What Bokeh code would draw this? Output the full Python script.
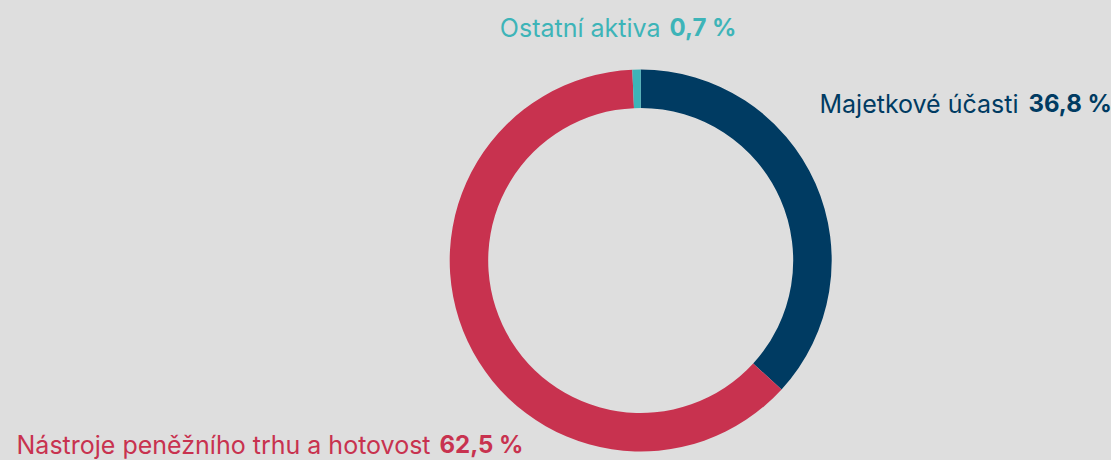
import math
from bokeh.plotting import figure
from bokeh.models import Range1d, ColumnDataSource
from bokeh.core.properties import value
from bokeh.embed import file_html
from bokeh.resources import INLINE

# ---- data ----
categories = ["Majetkové účasti", "Nástroje peněžního trhu a hotovost", "Ostatní aktiva"]
shares = [36.8, 62.5, 0.7]

# ---- styles ----
colors = ["#003b62", "#c8324f", "#3db4b8"]
BG = "#dedede"
W, H = 1111, 460
CX, CY = 640.2, 460 - 260.0
R_OUT, R_IN = 191.0, 152.5
FONT = "Inter"
FS_NAME = "25px"
FS_VAL = "24px"
BASE_FIX = 8  # renderer baseline correction (px)

p = figure(width=W, height=H, output_backend="svg", toolbar_location=None,
           x_range=Range1d(0, W), y_range=Range1d(0, H), min_border=0,
           background_fill_color=BG, border_fill_color=BG)
p.axis.visible = False
p.grid.visible = False
p.outline_line_color = None

total = sum(shares)
starts, ends = [], []
cum = 0.0
for v in shares:
    starts.append(math.pi / 2 - 2 * math.pi * cum / total)
    cum += v
    ends.append(math.pi / 2 - 2 * math.pi * cum / total)

src = ColumnDataSource(dict(x=[CX] * len(shares), y=[CY] * len(shares),
                            s=starts, e=ends, c=colors))
p.annular_wedge(x="x", y="y", inner_radius=R_IN, outer_radius=R_OUT,
                start_angle="s", end_angle="e", direction="clock",
                fill_color="c", line_color=None, source=src)

# label anchors (name end x, value start x, baseline y in screen px)
label_pos = {
    "Majetkové účasti": (1018, 1028, 111),
    "Nástroje peněžního trhu a hotovost": (430, 439, 452),
    "Ostatní aktiva": (660, 669, 35),
}

for cat, v, col in zip(categories, shares, colors):
    nx, vx, by = label_pos[cat]
    yy = H - (by - BASE_FIX)
    vtxt = f"{v:.1f}".replace(".", ",") + " %"
    p.text(x=[nx], y=[yy], text=[cat], text_color=col,
           text_font=value(FONT), text_font_size=FS_NAME, text_font_style="normal",
           text_align="right", text_baseline="alphabetic")
    p.text(x=[vx], y=[yy], text=[vtxt], text_color=col,
           text_font=value(FONT), text_font_size=FS_VAL, text_font_style="bold",
           text_align="left", text_baseline="alphabetic")

html = file_html(p, INLINE)
html = html.replace("<head>", "<head><style>html,body{margin:0;padding:0;background:%s;overflow:hidden}</style>" % BG, 1)
open("out.html", "w").write(html)
